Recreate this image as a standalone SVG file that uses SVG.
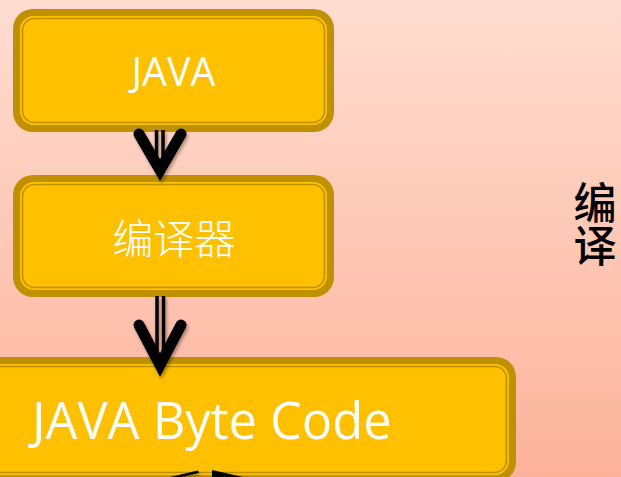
<svg xmlns="http://www.w3.org/2000/svg" width="621" height="477" viewBox="0 0 621 477">
<defs>
<linearGradient id="bg" x1="0" y1="0" x2="0" y2="1">
<stop offset="0" stop-color="#FFDDD1"/>
<stop offset="1" stop-color="#FCB39A"/>
</linearGradient>
<filter id="sh" x="-30%" y="-30%" width="160%" height="160%">
<feDropShadow dx="1.5" dy="2.5" stdDeviation="1.8" flood-color="#000" flood-opacity="0.35"/>
</filter>
</defs>
<style>
.outer{fill:#BF9000}
.fill{fill:#FFC000}
.inner{fill:none;stroke:#BF9000;stroke-width:1.6}
.lbl{fill:#FFFFFF;font-family:"Open Sans","Noto Sans CJK SC",sans-serif}
.cjk{font-family:"Noto Sans CJK SC",sans-serif}
.shaft{stroke:#000;stroke-width:3.5;fill:none}
.head{stroke:#000;stroke-width:11;fill:none;stroke-linecap:round;stroke-linejoin:miter;stroke-miterlimit:10}
</style>
<rect x="0" y="0" width="621" height="477" fill="url(#bg)"/>

<g id="node-java">
<rect class="outer" x="13" y="9" width="321" height="123" rx="20"/>
<rect class="fill" x="20" y="16" width="307" height="109" rx="14"/>
<rect class="inner" x="22.5" y="18.5" width="302" height="104" rx="12"/>
<text class="lbl" x="173.5" y="85.5" font-size="39.5" text-anchor="middle">JAVA</text>
</g>

<g id="node-compiler">
<rect class="outer" x="13" y="175" width="321" height="122" rx="20"/>
<rect class="fill" x="20" y="182" width="307" height="108" rx="14"/>
<rect class="inner" x="22.5" y="184.5" width="302" height="103" rx="12"/>
<text class="lbl cjk" x="174" y="254" font-size="41" font-weight="300" text-anchor="middle">编译器</text>
</g>

<g id="node-bytecode">
<rect class="outer" x="-20" y="357" width="536" height="125" rx="20"/>
<rect class="fill" x="-13" y="364" width="522" height="111" rx="14"/>
<rect class="inner" x="-10.5" y="366.5" width="517" height="106" rx="12"/>
<text class="lbl" x="32" y="439" font-size="50.5">JAVA Byte Code</text>
</g>

<g id="side-label">
<text class="cjk" x="595" y="181" font-size="43" font-weight="500" fill="#000" writing-mode="vertical-rl">编译</text>
</g>

<g id="connectors" filter="url(#sh)">
<line class="shaft" x1="156.5" y1="130" x2="156.5" y2="166"/>
<line class="shaft" x1="163" y1="130" x2="163" y2="166"/>
<path class="head" d="M139,134 L160,170 L181,134"/>
<line class="shaft" x1="157" y1="296" x2="157" y2="356"/>
<line class="shaft" x1="163.5" y1="296" x2="163.5" y2="356"/>
<path class="head" d="M139,325 L160,365 L181,325"/>
<polygon points="170,477 198,470.5 199,473 182,477" fill="#000"/>
<polygon points="212,470 243,477 212,477" fill="#000"/>
</g>
</svg>
